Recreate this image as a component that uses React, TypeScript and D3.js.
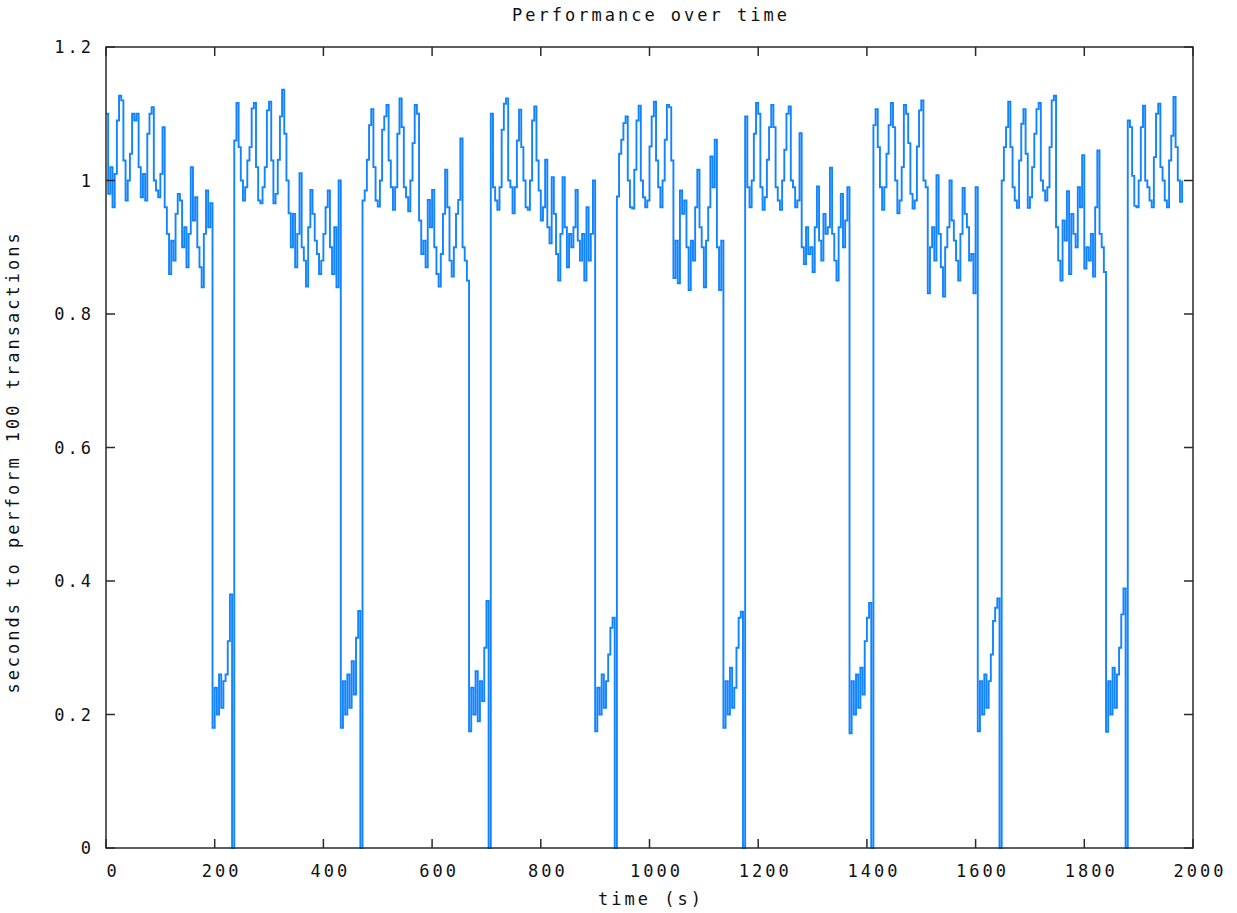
import React from "react";
import * as d3 from "d3";

// Sampling interval of the series (seconds)
const sampleStep = 4;

// Values, one array per cycle (each following cycle starts at its drop to 0)
const cycle0 = [1.10, 0.98, 1.02, 0.96, 1.01, 1.09, 1.127, 1.12, 1.03, 0.97, 1.0, 1.04, 1.10, 1.09, 1.10, 1.02, 0.975, 1.01, 0.97, 1.07, 1.10, 1.11, 1.0, 0.985, 0.975, 1.01, 1.08, 0.96, 0.92, 0.86, 0.91, 0.88, 0.95, 0.98, 0.97, 0.90, 0.93, 0.87, 0.92, 1.02, 0.94, 0.975, 0.90, 0.87, 0.84, 0.92, 0.985, 0.93, 0.966, 0.18, 0.24, 0.20, 0.26, 0.21, 0.25, 0.26, 0.31, 0.38];
const cycle1 = [0, 1.06, 1.116, 1.05, 1.0, 0.97, 0.99, 1.03, 1.05, 1.108, 1.116, 1.02, 0.97, 0.966, 0.99, 1.02, 1.105, 1.118, 1.03, 0.966, 0.98, 1.031, 1.096, 1.136, 1.07, 1.0, 0.951, 0.90, 0.95, 0.87, 0.92, 1.011, 0.90, 0.88, 0.841, 0.93, 0.986, 0.95, 0.91, 0.89, 0.86, 0.88, 0.92, 0.96, 0.985, 0.90, 0.86, 0.93, 0.84, 1.0, 0.18, 0.25, 0.20, 0.26, 0.21, 0.28, 0.23, 0.315, 0.355];
const cycle2 = [0, 0.97, 0.985, 1.031, 1.083, 1.107, 1.02, 0.97, 0.961, 1.0, 1.076, 1.096, 1.113, 1.03, 0.99, 0.956, 0.99, 1.07, 1.123, 1.08, 0.99, 0.975, 0.954, 1.0, 1.056, 1.113, 1.10, 0.94, 0.89, 0.91, 0.87, 0.971, 0.93, 0.986, 0.90, 0.86, 0.841, 0.89, 0.95, 1.016, 0.96, 0.88, 0.856, 0.90, 0.95, 0.971, 1.063, 0.90, 0.88, 0.85, 0.175, 0.24, 0.20, 0.265, 0.19, 0.25, 0.22, 0.30, 0.37];
const cycle3 = [0, 1.10, 0.99, 0.97, 0.956, 0.99, 1.076, 1.115, 1.123, 1.0, 0.99, 0.951, 0.99, 1.06, 1.106, 1.05, 1.0, 0.96, 0.956, 1.0, 1.09, 1.111, 1.03, 0.985, 0.94, 0.96, 1.031, 0.93, 0.906, 1.005, 0.95, 0.89, 0.85, 0.92, 1.005, 0.93, 0.87, 0.92, 0.90, 0.93, 0.986, 0.91, 0.88, 0.92, 0.85, 0.96, 0.88, 0.92, 1.0, 0.175, 0.24, 0.20, 0.26, 0.21, 0.25, 0.29, 0.33, 0.345];
const cycle4 = [0, 0.976, 1.04, 1.061, 1.086, 1.096, 1.0, 0.96, 0.958, 1.016, 1.09, 1.112, 1.0, 0.975, 0.96, 0.97, 1.051, 1.096, 1.118, 1.03, 0.99, 0.96, 1.0, 1.061, 1.113, 1.11, 1.03, 0.854, 0.91, 0.846, 0.985, 0.95, 0.97, 0.90, 0.836, 0.91, 0.88, 0.96, 1.016, 0.93, 0.90, 0.84, 0.91, 0.96, 1.036, 0.99, 1.061, 0.90, 0.836, 0.91, 0.18, 0.25, 0.20, 0.27, 0.21, 0.24, 0.30, 0.345, 0.354];
const cycle5 = [0, 1.096, 0.99, 0.96, 1.0, 1.07, 1.116, 1.10, 0.99, 0.956, 0.975, 1.031, 1.08, 1.113, 1.08, 0.99, 0.97, 0.956, 1.0, 1.046, 1.10, 1.111, 1.0, 0.99, 0.96, 0.97, 1.071, 0.90, 0.875, 0.93, 0.89, 0.90, 0.863, 0.93, 0.991, 0.91, 0.88, 0.95, 0.92, 0.93, 1.019, 0.92, 0.88, 0.85, 0.93, 0.98, 0.90, 0.94, 0.99, 0.172, 0.25, 0.20, 0.26, 0.21, 0.27, 0.23, 0.31, 0.345, 0.367];
const cycle6 = [0, 1.083, 1.107, 1.05, 0.99, 0.956, 0.99, 1.04, 1.083, 1.116, 1.08, 1.0, 0.951, 0.97, 1.02, 1.113, 1.10, 1.056, 0.98, 0.958, 0.97, 1.051, 1.105, 1.12, 1.0, 0.99, 0.831, 0.90, 0.93, 0.88, 1.008, 0.92, 0.87, 0.826, 0.90, 0.93, 1.0, 0.94, 0.91, 0.88, 0.85, 0.92, 0.989, 0.95, 0.93, 0.88, 0.89, 0.831, 0.99, 0.175, 0.25, 0.20, 0.26, 0.21, 0.25, 0.29, 0.34, 0.36, 0.374];
const cycle7 = [0, 1.0, 1.05, 1.08, 1.118, 1.05, 0.99, 0.97, 0.959, 1.03, 1.085, 1.107, 1.04, 0.959, 0.975, 1.02, 1.07, 1.107, 1.116, 1.0, 0.985, 0.97, 0.99, 1.05, 1.12, 1.127, 0.93, 0.88, 0.85, 0.94, 0.91, 0.984, 0.86, 0.95, 0.92, 0.90, 0.99, 0.96, 1.038, 0.868, 0.90, 0.88, 0.92, 0.856, 0.96, 1.045, 0.92, 0.90, 0.863, 0.174, 0.25, 0.20, 0.27, 0.21, 0.26, 0.30, 0.35, 0.389];
const cycle8 = [0, 1.09, 1.08, 1.007, 0.962, 0.96, 1.0, 1.08, 1.112, 1.0, 0.99, 0.97, 0.96, 1.035, 1.10, 1.115, 1.02, 1.0, 0.97, 0.96, 1.03, 1.067, 1.125, 1.05, 1.0, 0.968, 1.0];

const xTicks = [0, 200, 400, 600, 800, 1000, 1200, 1400, 1600, 1800, 2000];
const yTicks = [0, 0.2, 0.4, 0.6, 0.8, 1.0, 1.2];
const yTickLabels = ["0", "0.2", "0.4", "0.6", "0.8", "1", "1.2"];

const titleText = "Performance over time";
const xLabel = "time (s)";
const yLabel = "seconds to perform 100 transactions";

const W = 1237;
const H = 913;
const M = { left: 106, right: 1193, top: 47, bottom: 848 };
const FONT = "'DejaVu Sans Mono', 'Liberation Mono', monospace";

export default function App() {
  const values = [cycle0, cycle1, cycle2, cycle3, cycle4, cycle5, cycle6, cycle7, cycle8].flat();
  const series = values.map((v, i) => ({ t: i * sampleStep, v }));

  const x = d3.scaleLinear().domain([0, 2000]).range([M.left, M.right]);
  const y = d3.scaleLinear().domain([0, 1.2]).range([M.bottom, M.top]);

  const line = d3
    .line<{ t: number; v: number }>()
    .x((d) => x(d.t))
    .y((d) => y(d.v))
    .curve(d3.curveStepAfter);

  const tickLen = 9;
  const frameColor = "#2a2a2a";
  const textStyle: React.CSSProperties = {
    fontFamily: FONT,
    fontSize: 17,
    letterSpacing: 3,
    fill: "#111",
  };

  return (
    <svg
      width={W}
      height={H}
      style={{ position: "absolute", left: 0, top: 0, display: "block", background: "#fff" }}
    >
      <rect x={0} y={0} width={W} height={H} fill="#fff" />
      {/* data line */}
      <path d={line(series) || ""} fill="none" stroke="#1284ff" strokeWidth={1.9} strokeLinejoin="miter" />

      {/* frame */}
      <rect
        x={M.left}
        y={M.top}
        width={M.right - M.left}
        height={M.bottom - M.top}
        fill="none"
        stroke={frameColor}
        strokeWidth={1.5}
      />

      {/* x ticks (bottom & mirrored top) */}
      {xTicks.map((t) => (
        <g key={"xt" + t}>
          <line x1={x(t)} x2={x(t)} y1={M.bottom} y2={M.bottom - tickLen} stroke={frameColor} strokeWidth={1.5} />
          <line x1={x(t)} x2={x(t)} y1={M.top} y2={M.top + tickLen} stroke={frameColor} strokeWidth={1.5} />
          <text x={x(t) + 7} y={877} textAnchor="middle" style={textStyle}>
            {String(t)}
          </text>
        </g>
      ))}

      {/* y ticks (left & mirrored right) */}
      {yTicks.map((t, i) => (
        <g key={"yt" + t}>
          <line x1={M.left} x2={M.left + tickLen} y1={y(t)} y2={y(t)} stroke={frameColor} strokeWidth={1.5} />
          <line x1={M.right} x2={M.right - tickLen} y1={y(t)} y2={y(t)} stroke={frameColor} strokeWidth={1.5} />
          <text x={94} y={y(t) + 6} textAnchor="end" style={textStyle}>
            {yTickLabels[i]}
          </text>
        </g>
      ))}

      {/* title */}
      <text x={651} y={21} textAnchor="middle" style={textStyle}>
        {titleText}
      </text>

      {/* x label */}
      <text x={651} y={905} textAnchor="middle" style={textStyle}>
        {xLabel}
      </text>

      {/* y label */}
      <text
        transform={`translate(19, 462) rotate(-90)`}
        textAnchor="middle"
        style={textStyle}
      >
        {yLabel}
      </text>
    </svg>
  );
}
